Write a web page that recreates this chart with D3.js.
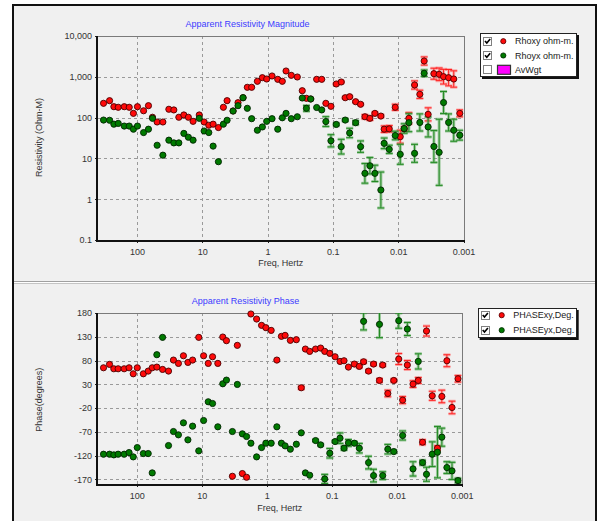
<!DOCTYPE html>
<html><head><meta charset="utf-8">
<script src="https://cdn.jsdelivr.net/npm/d3@7"></script>
<style>
html,body{margin:0;padding:0;background:#fff;}
svg{display:block;font-family:"Liberation Sans",Arial,sans-serif;}
</style></head><body>
<svg id="chart" width="597" height="521"></svg>
<script>
// ---------- DATA ----------
const frequencies = [324,262,225,193,156,131,113,98,79,66.5,
  57.7,49,40,32.4,27.2,22.8,19.1,16.3,13.8,11.1,
  9.35,7.93,6.81,5.65,4.74,4.16,3.37,2.83,2.37,2.04,
  1.75,1.43,1.20,1.03,0.853,0.698,0.594,0.521,0.433,0.350,
  0.294,0.254,0.218,0.177,0.148,0.128,0.107,0.0887,0.0745,0.0646,
  0.0553,0.0448,0.0376,0.0323,0.0271,0.0227,0.0184,0.0164,0.0137,0.0111,
  0.0093,0.0081,0.00686,0.00561,0.00466,0.0040,0.00348,0.00284,0.00236,0.00202,
  0.00169,0.00141,0.00114];

const rhoxy = [224,260,185,179,185,179,127,185,147,196,
  102,78,78,160,154,102,116,102,81,116,
  78,65,69,57,179,260,145,232,307,553,
  553,776,951,883,1047,867,776,1387,1087,989,
  456,297,286,867,867,224,189,666,746,307,
  325,245,212,105,96,127,109,52,53,179,
  34,53,96,630,372,2438,120,1191,1151,1007,
  951,883,127];
const rhoyx = [87,86,69,72,62,62,52,62,43,52,
  96,21,12,28,24,24,41,33,28,96,
  47,43,20,8.3,69,86,145,196,307,169,
  94,49,59,81,94,52,99,127,94,105,
  302,169,286,177,154,80,27,68,19.4,87,
  42,75,19.4,4.3,6.6,4.3,1.68,23.4,16.7,36.4,
  12.6,54,75,13.3,76,1219,59,19.6,14.1,234,
  76,49,37];
// error half-widths in decades (log10)
const rhoxyErr = [0,0,0,0,0,0,0,0,0,0,
  0,0,0,0,0,0,0,0,0,0,
  0,0,0,0,0,0,0,0,0,0,
  0,0,0,0,0,0,0,0,0,0,
  0,0,0,0,0,0,0,0.02,0.02,0.02,
  0.02,0.02,0.02,0.05,0.05,0.03,0.03,0.08,0.08,0.075,
  0.16,0.05,0.14,0.1,0.1,0.1,0.16,0.135,0.155,0.18,
  0.2,0.2,0.085];
const rhoyxErr = [0,0,0,0,0,0,0,0,0,0,
  0,0,0,0,0,0,0,0,0,0,
  0,0,0,0,0,0,0,0,0,0,
  0,0,0,0,0,0,0,0,0,0,
  0,0.07,0,0,0,0.12,0.15,0.03,0.18,0.03,
  0.115,0.05,0.14,0.24,0.2,0.2,0.44,0.13,0.1,0.105,
  0.245,0.115,0.22,0.22,0.21,0.08,0.245,0.39,0.81,0.27,
  0.21,0.27,0.12];

const phasexy = [64.7,71.8,62.6,62.6,62.6,64.7,52,64.7,52,57.7,
  64.7,66.1,61.2,57.7,80.9,73.9,90,76,80.9,128.7,
  90,73.9,87.9,73.9,129.4,121.7,-163.7,111.9,-158,-165.8,
  177.9,167.3,154,149.1,143.4,80.9,130.8,132.9,122.4,123.8,
  22.6,104.1,99.2,104.1,106.2,99.2,95,87.9,78.1,79.5,
  66.1,72.5,67.6,77.4,57.7,72.5,38,70.4,10.6,38,
  83,-3.4,70.4,30.3,38,-92,142,5.7,-104.6,4.3,
  79.5,-18.9,41.6];
const phaseyx = [-117.3,-117.3,-118.7,-117.3,-117.3,-113.8,-122.9,-103.3,-115.9,-115.9,
  -156.6,92.2,128.7,-99,-69.5,-76.5,-51.2,-87.1,-58.2,-110.2,
  -46.3,-6.9,-10.5,-59.6,31,38.7,-69.5,29.6,-74.4,-80,
  -94.1,-122.9,-103.3,-94.1,-94.1,-59.6,-94.1,-99.7,-106.7,-96.2,
  -72.3,-156.6,-161.6,-88.5,-97.6,-169.3,-115.2,-90.6,-83.5,-104.6,
  -93.4,-94.1,-104.6,162.4,-134.9,-162.3,156.1,-162.3,-106.7,-111.7,
  163.8,-77.9,146.3,-148.2,78.1,-134.9,-159.5,-117.3,-113.1,-81.4,
  -145.4,-152.4,-172.8];
const phasexyErr = [0,0,0,0,0,0,0,0,0,0,
  0,0,0,0,0,0,0,0,0,0,
  0,0,0,0,0,0,0,0,0,0,
  0,0,0,0,0,0,0,0,0,0,
  3,0,0,0,0,0,0,0,0,0,
  0,3,3,3,3,3,4,3,7,3,
  11.6,7.4,9.5,7,6.3,5.3,10.5,9.5,5,13.3,
  12.6,13.3,7];
const phaseyxErr = [0,0,0,0,0,0,0,0,0,0,
  0,0,0,0,0,0,0,0,0,0,
  0,0,0,0,0,0,0,0,0,0,
  0,0,0,0,0,0,0,0,0,0,
  0,0,0,2,2,9.5,10,2,11,4,
  7,3,10,18,13.3,13.3,28,8,10,3,
  16,9.5,13.7,15,16,5,14.8,26,54,19,
  12.3,18,5];

const freqTicks = [100,10,1,0.1,0.01,0.001];
const freqTickLabels = ["100","10","1","0.1","0.01","0.001"];
const freqMinorTicks = [300,30,3,0.3,0.03,0.003];
const rhoTicks = [10000,1000,100,10,1,0.1];
const rhoTickLabels = ["10,000","1,000","100","10","1","0.1"];
const phaseTicks = [180,130,80,30,-20,-70,-120,-170];

const titles = ["Apparent Resistivity Magnitude","Apparent Resistivity Phase"];
const xTitle = "Freq, Hertz";
const yTitles = ["Resistivity (Ohm-M)","Phase(degrees)"];
const legendTop = ["Rhoxy ohm-m.","Rhoyx ohm-m.","AvWgt"];
const legendBot = ["PHASExy,Deg.","PHASEyx,Deg."];

// ---------- STYLE ----------
const RED = "#ff0a0a", RED_S = "#4a0000", GREEN = "#007a00", GREEN_S = "#002400";
const FONT = 9;

const svg = d3.select("#chart");
svg.append("rect").attr("width",597).attr("height",521).attr("fill","#fff");
svg.append("rect").attr("x",14).attr("y",6).attr("width",581).attr("height",515).attr("fill","#f0f0f0");
// outer frame
const frame = svg.append("g").attr("shape-rendering","crispEdges");
frame.append("line").attr("x1",12).attr("x2",597).attr("y1",5).attr("y2",5).attr("stroke","#111").attr("stroke-width",2);
frame.append("line").attr("x1",13).attr("x2",13).attr("y1",4).attr("y2",521).attr("stroke","#111").attr("stroke-width",2);
frame.append("line").attr("x1",596).attr("x2",596).attr("y1",4).attr("y2",521).attr("stroke","#111").attr("stroke-width",2);
// separator between panels
frame.append("line").attr("x1",14).attr("x2",595).attr("y1",281.5).attr("y2",281.5).attr("stroke","#a0a0a0");
frame.append("line").attr("x1",14).attr("x2",595).attr("y1",282.5).attr("y2",282.5).attr("stroke","#ffffff");
frame.append("line").attr("x1",14).attr("x2",595).attr("y1",283.5).attr("y2",283.5).attr("stroke","#c4c4c4");

const defs = svg.append("defs");

function drawPanel(p) {
  const {box, x, y, yTicks, yFmt, id} = p;
  const g = svg.append("g");
  defs.append("clipPath").attr("id", id).append("rect")
    .attr("x", box.left).attr("y", box.top).attr("width", box.right - box.left).attr("height", box.bottom - box.top);

  // gridlines
  const grid = g.append("g").attr("shape-rendering","crispEdges")
    .attr("stroke","#9a9a9a").attr("stroke-dasharray","3,3");
  grid.selectAll("line.v").data(freqTicks.slice(0,-1)).join("line")
    .attr("x1", d => Math.round(x(d)) + 0.5).attr("x2", d => Math.round(x(d)) + 0.5)
    .attr("y1", box.top).attr("y2", box.bottom);
  grid.selectAll("line.h").data(yTicks.slice(1).filter(d => Math.abs(y(d) - box.bottom) > 2)).join("line")
    .attr("class","h")
    .attr("x1", box.left).attr("x2", box.right)
    .attr("y1", d => Math.round(y(d)) + 0.5).attr("y2", d => Math.round(y(d)) + 0.5);

  // axes
  const ax = g.append("g").attr("transform", `translate(0,${box.bottom})`)
    .call(d3.axisBottom(x).tickValues(freqTicks).tickFormat((d,i) => freqTickLabels[i]).tickSize(3).tickPadding(6));
  const axm = g.append("g").attr("transform", `translate(0,${box.bottom})`)
    .call(d3.axisBottom(x).tickValues(freqMinorTicks).tickFormat("").tickSize(2));
  const ay = g.append("g").attr("transform", `translate(${box.left},0)`)
    .call(d3.axisLeft(y).tickValues(yTicks).tickFormat(yFmt).tickSize(3).tickPadding(3));
  [ax, axm, ay].forEach(a => {
    a.select(".domain").remove();
    a.selectAll("line").attr("stroke","#222").attr("shape-rendering","crispEdges");
    a.selectAll("text").attr("fill","#333").style("font-size", FONT + "px")
      .style("font-family","'Liberation Sans',Arial,sans-serif");
  });

  // plot frame
  const fr = g.append("g").attr("shape-rendering","crispEdges");
  fr.append("line").attr("x1", box.left).attr("x2", box.right).attr("y1", box.top + 0.5).attr("y2", box.top + 0.5).attr("stroke","#7a7a7a");
  fr.append("line").attr("x1", box.right + 0.5).attr("x2", box.right + 0.5).attr("y1", box.top).attr("y2", box.bottom).attr("stroke","#7a7a7a");
  fr.append("line").attr("x1", box.left - 1).attr("x2", box.left - 1).attr("y1", box.top).attr("y2", box.bottom + 2).attr("stroke","#111").attr("stroke-width",2);
  fr.append("line").attr("x1", box.left - 2).attr("x2", box.right + 1).attr("y1", box.bottom + 1).attr("y2", box.bottom + 1).attr("stroke","#111").attr("stroke-width",2);
  return g;
}

function errorBars(g, id, x, y, vals, errs, lo, hi, light, dark) {
  const data = frequencies.map((f,i) => ({f, v: vals[i], e: errs[i]})).filter(d => d.e > 0);
  const eg = g.append("g").attr("clip-path", `url(#${id})`);
  [[light, 3], [dark, 1]].forEach(([col, w]) => {
    const s = eg.append("g").attr("stroke", col).attr("stroke-width", w).attr("fill","none");
    data.forEach(d => {
      const cx = x(d.f), y1 = y(lo(d.v, d.e)), y2 = y(hi(d.v, d.e));
      s.append("path").attr("d", `M${cx},${y1}V${y2}M${cx-3.5},${y1}H${cx+3.5}M${cx-3.5},${y2}H${cx+3.5}`);
    });
  });
}

function markers(g, x, y, vals, fill, stroke) {
  g.append("g").selectAll("circle").data(frequencies.map((f,i) => ({f, v: vals[i]}))).join("circle")
    .attr("cx", d => x(d.f)).attr("cy", d => y(d.v)).attr("r", 3.1)
    .attr("fill", fill).attr("stroke", stroke).attr("stroke-width", 0.9);
}

function checkbox(g, x0, y0, checked) {
  g.append("rect").attr("x", x0 + 0.5).attr("y", y0 + 0.5).attr("width", 8).attr("height", 8)
    .attr("fill","#fff").attr("stroke","#808080").attr("shape-rendering","crispEdges");
  if (checked) g.append("path").attr("d", `M${x0+2},${y0+4.2}L${x0+3.8},${y0+6.3}L${x0+7.2},${y0+2.2}`)
    .attr("fill","none").attr("stroke","#000").attr("stroke-width",1.6);
}

function legend(items, bx, by, bw, bh, rows, cfg) {
  const g = svg.append("g");
  g.append("rect").attr("x", bx + 2).attr("y", by + 2).attr("width", bw).attr("height", bh).attr("fill","#111");
  g.append("rect").attr("x", bx + 0.5).attr("y", by + 0.5).attr("width", bw - 1).attr("height", bh - 1)
    .attr("fill","#fff").attr("stroke","#222").attr("shape-rendering","crispEdges");
  items.forEach((label, i) => {
    const cy = rows[i], r = cfg[i];
    checkbox(g, bx + 3, cy - 4.5, r.checked);
    if (r.type === "dot") {
      g.append("circle").attr("cx", bx + cfg.mx).attr("cy", cy).attr("r", 2.6)
        .attr("fill", r.color).attr("stroke", r.stroke).attr("stroke-width", 0.8);
    } else {
      g.append("rect").attr("x", bx + 17.5).attr("y", cy - 4.5).attr("width", 13).attr("height", 9)
        .attr("fill", "#ff00ff").attr("stroke", "#333").attr("stroke-width", 1.2);
    }
    g.append("text").attr("x", bx + cfg.tx).attr("y", cy + 3.2).attr("fill","#222")
      .style("font-size", FONT + "px").text(label);
  });
}

// ---------- TOP PANEL ----------
const boxTop = {left: 98, right: 463.5, top: 36, bottom: 240};
const xTop = d3.scaleLog().domain([398.1, 0.001]).range([97.7, boxTop.right]);
const yTop = d3.scaleLog().domain([0.1, 10000]).range([boxTop.bottom, boxTop.top]);
const gT = drawPanel({box: boxTop, x: xTop, y: yTop, yTicks: rhoTicks, yFmt: (d,i) => rhoTickLabels[i], id: "clipTop"});
errorBars(gT, "clipTop", xTop, yTop, rhoxy, rhoxyErr, (v,e) => v / Math.pow(10,e), (v,e) => v * Math.pow(10,e), "rgba(255,120,120,0.55)", "#ff2020");
errorBars(gT, "clipTop", xTop, yTop, rhoyx, rhoyxErr, (v,e) => v / Math.pow(10,e), (v,e) => v * Math.pow(10,e), "rgba(90,170,90,0.55)", "#238a23");
markers(gT, xTop, yTop, rhoxy, RED, RED_S);
markers(gT, xTop, yTop, rhoyx, GREEN, GREEN_S);

// ---------- BOTTOM PANEL ----------
const boxBot = {left: 98, right: 461.7, top: 313, bottom: 484};
const xBot = d3.scaleLog().domain([398.1, 0.001]).range([97.7, boxBot.right]);
const yBot = d3.scaleLinear().domain([-180, 180]).range([boxBot.bottom, boxBot.top]);
const gB = drawPanel({box: boxBot, x: xBot, y: yBot, yTicks: phaseTicks, yFmt: d => d, id: "clipBot"});
errorBars(gB, "clipBot", xBot, yBot, phasexy, phasexyErr, (v,e) => v - e, (v,e) => v + e, "rgba(255,120,120,0.55)", "#ff2020");
errorBars(gB, "clipBot", xBot, yBot, phaseyx, phaseyxErr, (v,e) => v - e, (v,e) => v + e, "rgba(90,170,90,0.55)", "#238a23");
markers(gB, xBot, yBot, phasexy, RED, RED_S);
markers(gB, xBot, yBot, phaseyx, GREEN, GREEN_S);

// ---------- TEXTS ----------
const txt = svg.append("g").style("font-size", FONT + "px");
txt.append("text").attr("x", 247.5).attr("y", 27.3).attr("text-anchor","middle").attr("fill","#3c3cff").text(titles[0]);
txt.append("text").attr("x", 245.5).attr("y", 304.3).attr("text-anchor","middle").attr("fill","#3c3cff").text(titles[1]);
txt.append("text").attr("x", (boxTop.left + boxTop.right) / 2).attr("y", 266.3).attr("text-anchor","middle").attr("fill","#333").text(xTitle);
txt.append("text").attr("x", (boxBot.left + boxBot.right) / 2).attr("y", 510.5).attr("text-anchor","middle").attr("fill","#333").text(xTitle);
txt.append("text").attr("transform","translate(42.3,137.5) rotate(-90)").attr("text-anchor","middle").attr("fill","#333").text(yTitles[0]);
txt.append("text").attr("transform","translate(42.3,399.7) rotate(-90)").attr("text-anchor","middle").attr("fill","#333").text(yTitles[1]);

// ---------- LEGENDS ----------
const cfgTop = [{checked:true, type:"dot", color:RED, stroke:RED_S},
                {checked:true, type:"dot", color:GREEN, stroke:GREEN_S},
                {checked:false, type:"box"}];
cfgTop.mx = 23.3; cfgTop.tx = 35;
legend(legendTop, 480, 33, 97, 44, [41.2, 55.5, 69.8], cfgTop);
const cfgBot = [{checked:true, type:"dot", color:RED, stroke:RED_S},
                {checked:true, type:"dot", color:GREEN, stroke:GREEN_S}];
cfgBot.mx = 24; cfgBot.tx = 35.6;
legend(legendBot, 477.7, 308, 99, 30, [315.2, 330.2], cfgBot);
</script>
</body></html>
